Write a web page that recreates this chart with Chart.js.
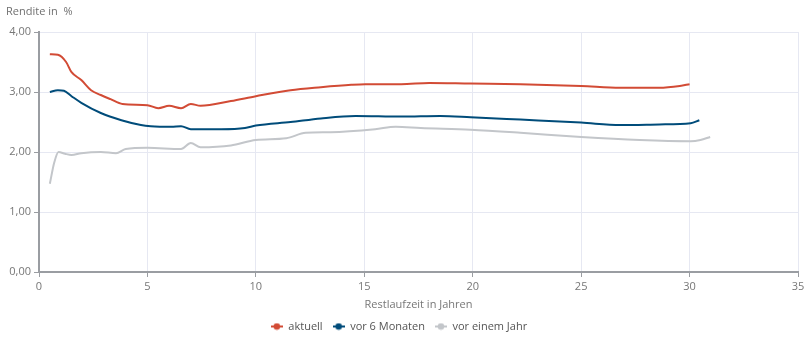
<!DOCTYPE html>
<html>
<head>
<meta charset="utf-8">
<script src="https://cdn.jsdelivr.net/npm/chart.js@4"></script>
<style>
  html, body { margin: 0; padding: 0; background: #fff; }
  #wrap { width: 810px; height: 339px; position: relative; }
</style>
</head>
<body>
<div id="wrap"><canvas id="c"></canvas></div>
<script>
// Restlaufzeit (Jahre) und Rendite (%) je Zinsstrukturkurve
const seriesNames = ['aktuell', 'vor 6 Monaten', 'vor einem Jahr'];

const aktuellX = [0.5, 0.87, 1.25, 1.5, 1.95, 2.4, 2.85, 3.3, 3.85, 5, 5.5, 6, 6.55, 7, 7.45, 8.85, 10, 11.6, 13, 14.4, 15.05, 16.7, 18, 19.9, 22.2, 25, 26.8, 28.6, 29.55, 30];
const aktuellY = [3.63, 3.62, 3.5, 3.33, 3.2, 3.03, 2.95, 2.88, 2.8, 2.78, 2.73, 2.77, 2.73, 2.8, 2.77, 2.85, 2.93, 3.03, 3.08, 3.12, 3.13, 3.13, 3.15, 3.14, 3.13, 3.1, 3.07, 3.07, 3.1, 3.13];

const sechsMonateX = [0.5, 0.87, 1.15, 1.5, 1.95, 2.85, 3.8, 4.7, 5.15, 6.1, 6.55, 7, 8.4, 9.5, 10, 11.6, 13, 14.6, 16.7, 18.5, 19.9, 22.2, 25, 26.8, 28.6, 30.05, 30.45];
const sechsMonateY = [3.0, 3.03, 3.02, 2.93, 2.82, 2.65, 2.53, 2.45, 2.43, 2.42, 2.43, 2.38, 2.38, 2.4, 2.44, 2.5, 2.56, 2.6, 2.59, 2.6, 2.58, 2.54, 2.49, 2.45, 2.46, 2.48, 2.53];

const einJahrX = [0.5, 0.7, 0.9, 1.2, 1.5, 1.95, 2.85, 3.55, 4, 5, 6.55, 7, 7.45, 8.85, 10, 11.4, 12.3, 13.45, 15.5, 16.45, 17.6, 19.9, 22.2, 25, 27.7, 30.05, 30.5, 30.95];
const einJahrY = [1.47, 1.82, 2.0, 1.97, 1.95, 1.98, 2.0, 1.98, 2.05, 2.07, 2.05, 2.15, 2.08, 2.11, 2.2, 2.23, 2.32, 2.33, 2.38, 2.42, 2.4, 2.37, 2.32, 2.25, 2.2, 2.18, 2.2, 2.25];

const xTicks = [0, 5, 10, 15, 20, 25, 30, 35];
const yTicks = [0, 1, 2, 3, 4];

const colors = ['#d24b35', '#004c7a', '#c3c6ca'];
const fontFamily = '"Open Sans", "Noto Sans", sans-serif';

function points(xs, ys) {
  return xs.map((x, i) => ({ x: x, y: ys[i] }));
}

// Legend symbol: short line with a dot in the middle
function legendSymbol(color) {
  const cv = document.createElement('canvas');
  cv.width = 12; cv.height = 8;
  const g = cv.getContext('2d');
  g.strokeStyle = color; g.lineWidth = 2;
  g.beginPath(); g.moveTo(0, 4); g.lineTo(12, 4); g.stroke();
  g.fillStyle = color;
  g.beginPath(); g.arc(6, 4, 3.3, 0, Math.PI * 2); g.fill();
  return cv;
}

const fmt = new Intl.NumberFormat('de-DE', { minimumFractionDigits: 2, maximumFractionDigits: 2 });

// Axis title above the value axis
const yTitlePlugin = {
  id: 'yTitle',
  afterDraw(chart) {
    const ctx = chart.ctx;
    ctx.save();
    ctx.font = '11px ' + fontFamily;
    ctx.fillStyle = '#707070';
    ctx.textBaseline = 'middle';
    ctx.textAlign = 'left';
    ctx.fillText('Rendite in  %', 6, 12);
    ctx.restore();
  }
};

// Keep the legend band compact while items stay spaced apart
const legendHeightPlugin = {
  id: 'legendHeight',
  beforeLayout(chart) {
    const lg = chart.legend;
    if (lg && !lg._fixedFit) {
      const orig = lg.fit;
      lg.fit = function () { orig.call(this); this.height = 28; };
      lg._fixedFit = true;
    }
  }
};

const datasets = [
  [aktuellX, aktuellY],
  [sechsMonateX, sechsMonateY],
  [einJahrX, einJahrY]
].map((d, i) => ({
  label: seriesNames[i],
  data: points(d[0], d[1]),
  borderColor: colors[i],
  backgroundColor: colors[i],
  borderWidth: 2,
  pointRadius: 0,
  pointHoverRadius: 0,
  cubicInterpolationMode: 'monotone',
  fill: false,
  pointStyle: legendSymbol(colors[i])
}));

new Chart(document.getElementById('c'), {
  type: 'line',
  data: { datasets: datasets },
  plugins: [yTitlePlugin, legendHeightPlugin],
  options: {
    responsive: true,
    maintainAspectRatio: false,
    animation: false,
    layout: { padding: { top: 32, right: 12, left: 0, bottom: 0 } },
    plugins: {
      tooltip: { enabled: false },
      legend: {
        position: 'bottom',
        labels: {
          usePointStyle: true,
          pointStyleWidth: 12,
          color: '#555',
          font: { family: fontFamily, size: 11 },
          padding: 10
        }
      }
    },
    scales: {
      x: {
        type: 'linear',
        min: 0, max: 35,
        afterBuildTicks(scale) { scale.ticks = xTicks.map(v => ({ value: v })); },
        afterFit(scale) { scale.height = 39; },
        ticks: {
          color: '#777',
          font: { family: fontFamily, size: 11 },
          padding: 3,
          maxRotation: 0
        },
        grid: {
          color: '#e6e8f2',
          lineWidth: 1,
          tickLength: 5,
          tickColor: '#9a9da2',
          drawTicks: true
        },
        border: { display: true, color: '#9a9da2', width: 2 },
        title: {
          display: true,
          text: 'Restlaufzeit in Jahren',
          color: '#777',
          font: { family: fontFamily, size: 11 },
          padding: { top: 2, bottom: 0 }
        }
      },
      y: {
        min: 0, max: 4,
        afterBuildTicks(scale) { scale.ticks = yTicks.map(v => ({ value: v })); },
        afterFit(scale) { scale.width = 39; },
        ticks: {
          color: '#777',
          font: { family: fontFamily, size: 11 },
          padding: 3,
          callback: v => fmt.format(v)
        },
        grid: {
          color: '#e6e8f2',
          lineWidth: 1,
          tickLength: 5,
          tickColor: '#9a9da2'
        },
        border: { display: true, color: '#9a9da2', width: 2 }
      }
    }
  }
});
</script>
</body>
</html>
